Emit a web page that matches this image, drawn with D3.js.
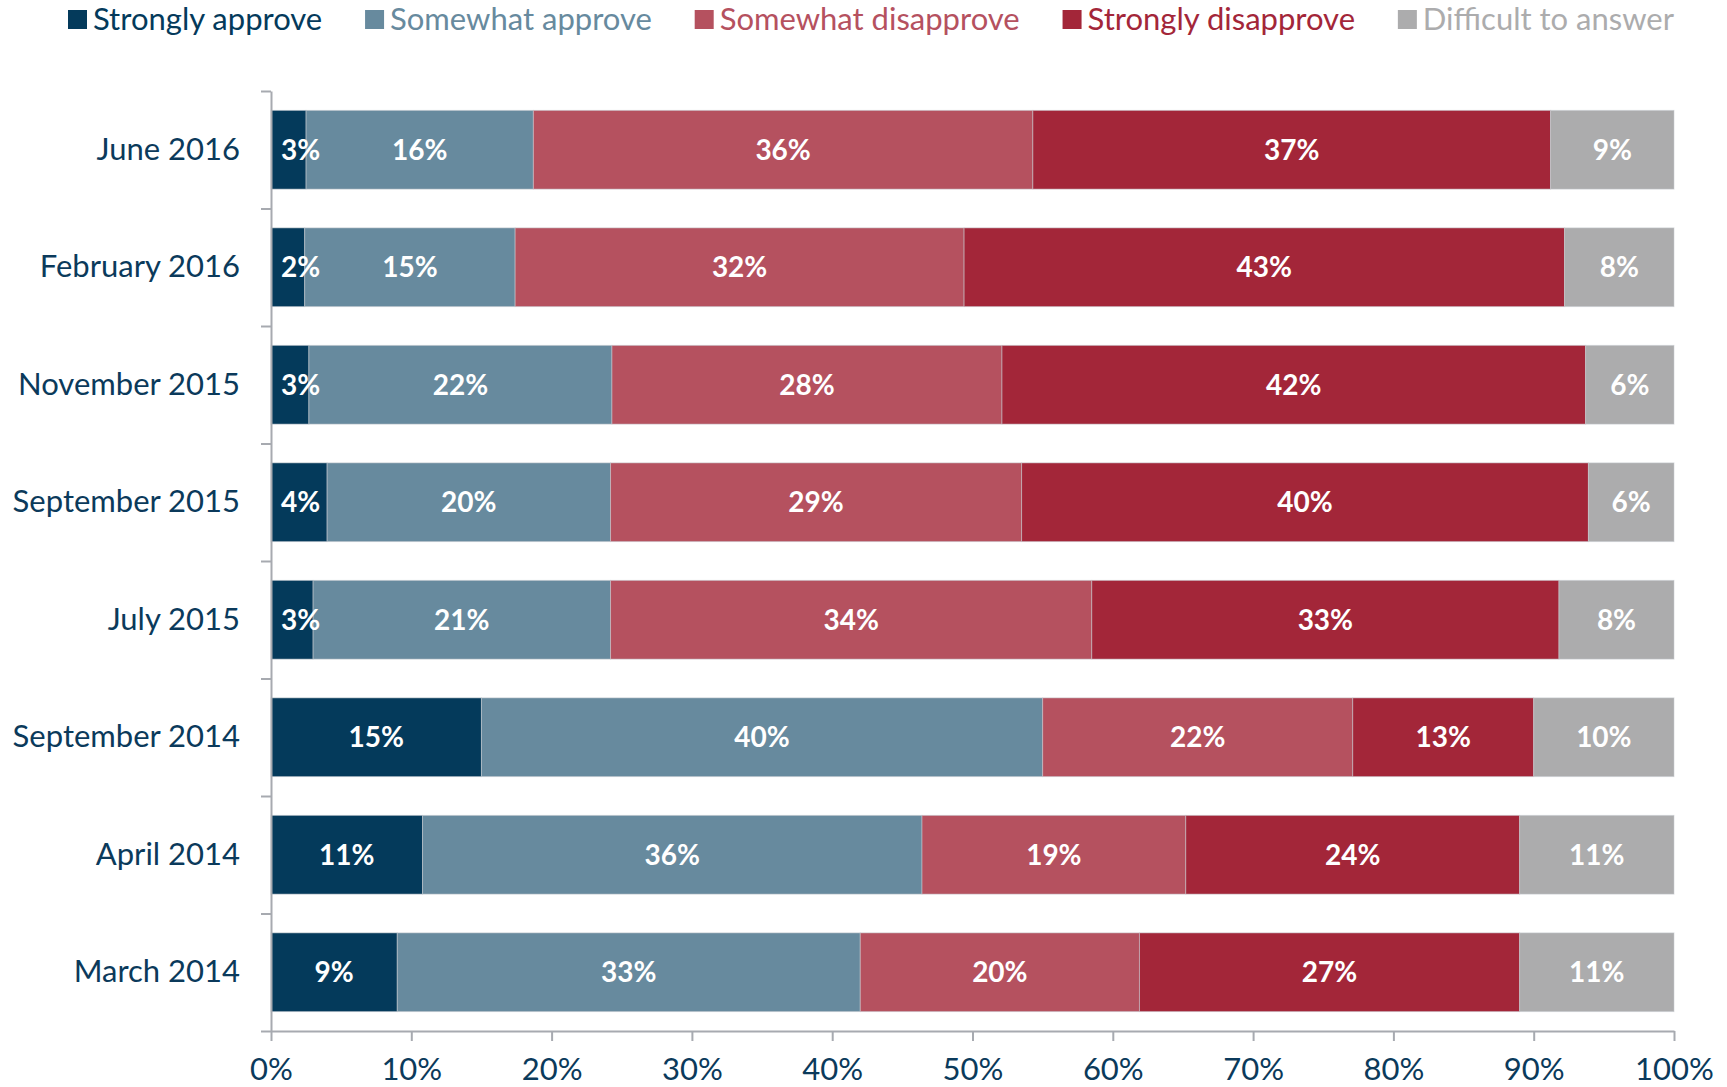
<!DOCTYPE html>
<html>
<head>
<meta charset="utf-8">
<script src="https://cdn.jsdelivr.net/npm/d3@7"></script>
<style>
  body { margin: 0; background: #fff; }
  svg text { font-family: Lato, "Open Sans", sans-serif; }
</style>
</head>
<body>
<div id="chart"></div>
<script>
var svgWidth = 1727;
var svgHeight = 1087;

var margin = {
  top: 91,
  right: 53,
  bottom: 56,
  left: 271
};

var width = svgWidth - margin.left - margin.right;
var height = svgHeight - margin.top - margin.bottom;

// Data (percent of respondents)
var periods = ["June 2016", "February 2016", "November 2015", "September 2015",
  "July 2015", "September 2014", "April 2014", "March 2014"];
var strongApprove    = [2.5, 2.4, 2.7, 4.0, 3.0, 15.0, 10.8, 9.0];
var someApprove      = [16.2, 15.0, 21.6, 20.2, 21.2, 40.0, 35.6, 33.0];
var someDisapprove   = [35.6, 32.0, 27.8, 29.3, 34.3, 22.1, 18.8, 19.9];
var strongDisapprove = [36.9, 42.8, 41.6, 40.4, 33.3, 12.9, 23.8, 27.1];
var hardToSay        = [8.8, 7.8, 6.3, 6.1, 8.2, 10.0, 11.0, 11.0];
var seriesNames = ["Strongly approve", "Somewhat approve", "Somewhat disapprove",
  "Strongly disapprove", "Difficult to answer"];
var xTicks = [0, 10, 20, 30, 40, 50, 60, 70, 80, 90, 100];

var seriesColors = ["#043a5b", "#678a9e", "#b5515f", "#a32639", "#acacad"];
var textColor = "#0b3a5b";
var axisColor = "#a7aab0";

var keys = ["s0", "s1", "s2", "s3", "s4"];
var rows = periods.map(function(p, i) {
  return {
    period: p,
    s0: strongApprove[i],
    s1: someApprove[i],
    s2: someDisapprove[i],
    s3: strongDisapprove[i],
    s4: hardToSay[i]
  };
});
var stacked = d3.stack().keys(keys)(rows);

var svg = d3.select("#chart")
  .append("svg")
  .attr("width", svgWidth)
  .attr("height", svgHeight);

var chartGroup = svg.append("g")
  .attr("transform", `translate(${margin.left}, ${margin.top})`);

// scales
var xScale = d3.scaleLinear()
  .domain([0, 100])
  .range([0, width]);

var yScale = d3.scaleBand()
  .domain(periods)
  .range([0, height])
  .paddingInner(0.33)
  .paddingOuter(0.165);

// band boundaries for the y axis ticks
var yEdges = d3.scaleLinear()
  .domain([0, periods.length])
  .range([0, height]);

// bars
var layer = chartGroup.selectAll(".layer")
  .data(stacked)
  .enter()
  .append("g")
  .attr("class", "layer")
  .attr("fill", (d, i) => seriesColors[i]);

layer.selectAll("rect")
  .data(d => d)
  .enter()
  .append("rect")
  .attr("x", d => xScale(d[0]))
  .attr("y", d => yScale(d.data.period))
  .attr("width", d => xScale(d[1]) - xScale(d[0]))
  .attr("height", yScale.bandwidth())
  .attr("stroke", "#c9ccd2")
  .attr("stroke-opacity", 0.55)
  .attr("stroke-width", 1);

// value labels, drawn on top of all the bars
var fmt = d3.format(".0f");
var labelGroup = chartGroup.append("g").attr("class", "labels");
stacked.forEach(function(series) {
  labelGroup.append("g")
    .selectAll("text")
    .data(series)
    .enter()
    .append("text")
    .attr("y", d => yScale(d.data.period) + yScale.bandwidth() / 2)
    .attr("dy", "0.36em")
    .attr("text-anchor", "middle")
    .attr("fill", "#fff")
    .style("font-size", "28px")
    .style("font-weight", "bold")
    .text(d => fmt(d[1] - d[0]) + "%")
    .attr("x", function(d) {
      var w = this.getComputedTextLength();
      var x0 = xScale(d[0]);
      var cx = (x0 + xScale(d[1])) / 2;
      return Math.max(cx, x0 + 10 + w / 2);
    });
});

// x axis
var bottomAxis = d3.axisBottom(xScale)
  .tickValues(xTicks)
  .tickFormat(d => d + "%")
  .tickSize(10)
  .tickSizeOuter(0)
  .tickPadding(17);

var xAxisG = chartGroup.append("g")
  .attr("transform", `translate(0, ${height})`)
  .call(bottomAxis);

// y axis: ticks at band edges
var leftAxis = d3.axisLeft(yEdges)
  .tickValues(d3.range(periods.length + 1))
  .tickFormat("")
  .tickSize(10)
  .tickSizeOuter(0);

var yAxisG = chartGroup.append("g")
  .call(leftAxis);

[xAxisG, yAxisG].forEach(function(g) {
  g.select(".domain").attr("stroke", axisColor).attr("stroke-width", 2);
  g.selectAll(".tick line").attr("stroke", axisColor).attr("stroke-width", 2);
});
xAxisG.selectAll("text")
  .attr("fill", textColor)
  .style("font-size", "31px")
  .style("font-family", "Lato, sans-serif");

// category labels
var catAxis = d3.axisLeft(yScale)
  .tickSize(0)
  .tickPadding(31);
var catG = chartGroup.append("g").call(catAxis);
catG.select(".domain").remove();
catG.selectAll("text")
  .attr("fill", textColor)
  .style("font-size", "31px")
  .style("font-family", "Lato, sans-serif");

// legend, spread from the left start to the chart's right edge
var legendStart = 68;
var legendEnd = margin.left + width;
var boxSize = 19;
var boxGap = 6;

var legend = svg.append("g").attr("class", "legend");
var items = legend.selectAll("g")
  .data(seriesNames)
  .enter()
  .append("g");

items.append("rect")
  .attr("y", 10)
  .attr("width", boxSize)
  .attr("height", boxSize)
  .attr("fill", (d, i) => seriesColors[i]);

items.append("text")
  .attr("x", boxSize + boxGap)
  .attr("y", 30)
  .attr("fill", (d, i) => seriesColors[i])
  .style("font-size", "31px")
  .text(d => d);

var itemWidths = [];
items.each(function() {
  itemWidths.push(boxSize + boxGap + d3.select(this).select("text").node().getComputedTextLength());
});
var gap = (legendEnd - legendStart - d3.sum(itemWidths)) / (seriesNames.length - 1);
var pos = legendStart;
items.attr("transform", function(d, i) {
  var t = `translate(${pos}, 0)`;
  pos += itemWidths[i] + gap;
  return t;
});
</script>
</body>
</html>
